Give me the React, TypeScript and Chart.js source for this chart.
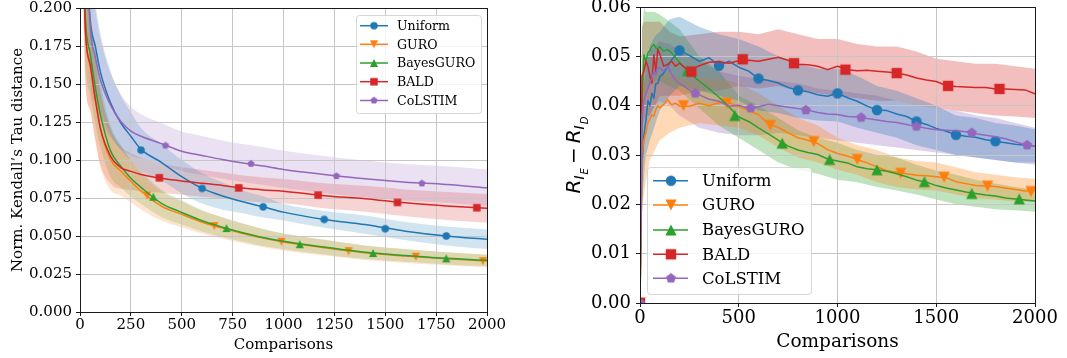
import React, { useEffect, useRef } from 'react';
import { Chart, registerables } from 'chart.js';

Chart.register(...registerables);

const NAMES = ['Uniform', 'GURO', 'BayesGURO', 'BALD', 'CoLSTIM'];
const COLORS = ['#1f77b4', '#ff7f0e', '#2ca02c', '#d62728', '#9467bd'];
const SHAPES = ['circle', 'triDown', 'triUp', 'square', 'pentagon'];

// ---------------- Left panel: Norm. Kendall's Tau distance ----------------
const L_X_TICKS = [0, 250, 500, 750, 1000, 1250, 1500, 1750, 2000];
const L_Y_TICKS = [0, 0.025, 0.05, 0.075, 0.1, 0.125, 0.15, 0.175, 0.2];
const L_X = [10, 25, 50, 75, 100, 150, 200, 250, 300, 400, 500, 600, 700, 800, 900, 1000, 1200, 1400, 1600, 1800, 2000];

const L_UNIFORM = [0.32, 0.25, 0.192, 0.175, 0.158, 0.1376, 0.1245, 0.1156, 0.107, 0.0985, 0.089, 0.0813, 0.0763, 0.0725, 0.0692, 0.0657, 0.0609, 0.0575, 0.0532, 0.05, 0.0478];
const L_UNIFORM_LO = [0.28, 0.215, 0.162, 0.147, 0.133, 0.1166, 0.1065, 0.0996, 0.093, 0.0865, 0.078, 0.0713, 0.0673, 0.065, 0.0622, 0.0602, 0.0554, 0.0515, 0.0472, 0.0438, 0.0414];
const L_UNIFORM_HI = [0.36, 0.285, 0.222, 0.203, 0.183, 0.1586, 0.1425, 0.1316, 0.121, 0.1105, 0.1, 0.0913, 0.0853, 0.08, 0.0762, 0.0712, 0.0664, 0.0635, 0.0592, 0.0562, 0.0542];

const L_GURO = [0.3, 0.19, 0.162, 0.141, 0.1206, 0.1003, 0.0927, 0.086, 0.0795, 0.0697, 0.0642, 0.0591, 0.0552, 0.0517, 0.0486, 0.046, 0.0423, 0.039, 0.0368, 0.035, 0.0335];
const L_GURO_LO = [0.26, 0.155, 0.132, 0.114, 0.0956, 0.0803, 0.0767, 0.072, 0.0675, 0.0602, 0.0557, 0.0516, 0.0482, 0.0452, 0.0426, 0.0403, 0.0371, 0.0342, 0.0323, 0.0307, 0.0293];
const L_GURO_HI = [0.34, 0.225, 0.192, 0.168, 0.1456, 0.1203, 0.1087, 0.1, 0.0915, 0.0792, 0.0727, 0.0666, 0.0622, 0.0582, 0.0546, 0.0517, 0.0475, 0.0438, 0.0413, 0.0393, 0.0377];

const L_BAYES = [0.3, 0.2, 0.17, 0.148, 0.13, 0.106, 0.096, 0.088, 0.082, 0.0715, 0.0655, 0.06, 0.0558, 0.0522, 0.049, 0.0465, 0.0427, 0.0393, 0.0372, 0.0353, 0.034];
const L_BAYES_LO = [0.265, 0.17, 0.143, 0.124, 0.109, 0.089, 0.082, 0.076, 0.071, 0.0625, 0.0575, 0.053, 0.0493, 0.0462, 0.0435, 0.0413, 0.0379, 0.0348, 0.033, 0.0313, 0.0302];
const L_BAYES_HI = [0.335, 0.23, 0.197, 0.172, 0.151, 0.123, 0.11, 0.1, 0.093, 0.0805, 0.0735, 0.067, 0.0623, 0.0582, 0.0545, 0.0517, 0.0475, 0.0438, 0.0414, 0.0393, 0.0378];

const L_BALD = [0.3, 0.19, 0.163, 0.14, 0.121, 0.1025, 0.095, 0.0925, 0.0905, 0.088, 0.0862, 0.0847, 0.0833, 0.0815, 0.0803, 0.0795, 0.0765, 0.0745, 0.0718, 0.0698, 0.0682];
const L_BALD_LO = [0.26, 0.155, 0.133, 0.113, 0.097, 0.0845, 0.081, 0.0805, 0.0795, 0.0785, 0.0772, 0.0759, 0.0748, 0.0732, 0.0721, 0.0715, 0.0683, 0.066, 0.063, 0.0606, 0.0587];
const L_BALD_HI = [0.34, 0.225, 0.193, 0.167, 0.145, 0.1205, 0.109, 0.1045, 0.1015, 0.0975, 0.0952, 0.0935, 0.0918, 0.0898, 0.0885, 0.0875, 0.0847, 0.083, 0.0806, 0.079, 0.0777];

const L_COLSTIM = [0.35, 0.28, 0.189, 0.168, 0.153, 0.136, 0.1255, 0.119, 0.1156, 0.1108, 0.1058, 0.103, 0.1003, 0.098, 0.096, 0.0938, 0.0905, 0.0876, 0.0854, 0.0839, 0.0817];
const L_COLSTIM_LO = [0.31, 0.24, 0.153, 0.137, 0.126, 0.115, 0.1075, 0.103, 0.1011, 0.0973, 0.0928, 0.0902, 0.0877, 0.0855, 0.0836, 0.0815, 0.0783, 0.0755, 0.0734, 0.0719, 0.0697];
const L_COLSTIM_HI = [0.39, 0.32, 0.225, 0.199, 0.18, 0.157, 0.1435, 0.135, 0.1301, 0.1243, 0.1188, 0.1158, 0.1129, 0.1105, 0.1084, 0.1061, 0.1027, 0.0997, 0.0974, 0.0959, 0.0937];

const L_MK_UNIFORM_X = [300, 600, 900, 1200, 1500, 1800];
const L_MK_UNIFORM_Y = [0.1065, 0.0813, 0.0692, 0.0609, 0.0548, 0.05];
const L_MK_GURO_X = [330, 660, 990, 1320, 1650, 1980];
const L_MK_GURO_Y = [0.0766, 0.0565, 0.0462, 0.04, 0.0364, 0.0334];
const L_MK_BAYES_X = [360, 720, 1080, 1440, 1800];
const L_MK_BAYES_Y = [0.0758, 0.0552, 0.0446, 0.0388, 0.0353];
const L_MK_BALD_X = [390, 780, 1170, 1560, 1950];
const L_MK_BALD_Y = [0.0883, 0.0817, 0.0769, 0.0721, 0.0686];
const L_MK_COLSTIM_X = [420, 840, 1260, 1680];
const L_MK_COLSTIM_Y = [0.1095, 0.0975, 0.0894, 0.0846];

// ---------------- Right panel: R_IE - R_ID ----------------
const R_X_TICKS = [0, 500, 1000, 1500, 2000];
const R_Y_TICKS = [0, 0.01, 0.02, 0.03, 0.04, 0.05, 0.06];
const R_X = [0, 10, 20, 30, 40, 50, 60, 70, 80, 90, 100, 120, 140, 160, 180, 200, 250, 300, 350, 400, 450, 500, 550, 600, 650, 700, 750, 800, 850, 900, 950, 1000, 1050, 1100, 1150, 1200, 1250, 1300, 1350, 1400, 1450, 1500, 1550, 1600, 1650, 1700, 1750, 1800, 1850, 1900, 1950, 2000];

const R_UNIFORM = [0, 0.028, 0.034, 0.037, 0.041, 0.04, 0.0425, 0.0415, 0.0445, 0.0445, 0.0458, 0.0466, 0.048, 0.0493, 0.0502, 0.0512, 0.0502, 0.049, 0.0497, 0.0481, 0.049, 0.0478, 0.047, 0.0455, 0.0451, 0.0446, 0.0437, 0.0431, 0.0428, 0.0422, 0.0419, 0.0425, 0.0416, 0.0409, 0.0399, 0.0391, 0.039, 0.0383, 0.0378, 0.0368, 0.0362, 0.0354, 0.0348, 0.0341, 0.0338, 0.0336, 0.0331, 0.0328, 0.0325, 0.0322, 0.032, 0.0318];
const R_GURO = [0, 0.03, 0.033, 0.0345, 0.0365, 0.0372, 0.0382, 0.0378, 0.0392, 0.04, 0.0396, 0.0402, 0.0412, 0.0402, 0.0405, 0.0399, 0.0399, 0.0405, 0.04, 0.0406, 0.0406, 0.0398, 0.039, 0.0382, 0.0363, 0.0356, 0.0345, 0.0335, 0.033, 0.0323, 0.0311, 0.0303, 0.0298, 0.0291, 0.0284, 0.0276, 0.0268, 0.0265, 0.0262, 0.0259, 0.0258, 0.0256, 0.0254, 0.0246, 0.0242, 0.0238, 0.0237, 0.0236, 0.0233, 0.023, 0.0227, 0.0228];
const R_BAYES = [0, 0.04, 0.0503, 0.049, 0.0507, 0.0512, 0.052, 0.0524, 0.0517, 0.0515, 0.052, 0.051, 0.0514, 0.0507, 0.0497, 0.0488, 0.0466, 0.045, 0.0434, 0.0417, 0.0398, 0.0377, 0.0368, 0.0355, 0.0343, 0.033, 0.0318, 0.031, 0.0305, 0.0301, 0.0292, 0.0288, 0.0284, 0.0276, 0.0272, 0.027, 0.0267, 0.0262, 0.0256, 0.0249, 0.0245, 0.0238, 0.0233, 0.0229, 0.0225, 0.0222, 0.0219, 0.0217, 0.0213, 0.0211, 0.0209, 0.0207];
const R_BALD = [0, 0.046, 0.047, 0.049, 0.048, 0.046, 0.0446, 0.0503, 0.047, 0.0514, 0.0505, 0.048, 0.0484, 0.049, 0.048, 0.0486, 0.047, 0.0481, 0.0488, 0.0489, 0.0486, 0.0491, 0.0492, 0.049, 0.0494, 0.0498, 0.0492, 0.0484, 0.0483, 0.048, 0.0473, 0.048, 0.0473, 0.0471, 0.0472, 0.047, 0.0468, 0.0466, 0.0462, 0.0456, 0.0452, 0.0449, 0.0441, 0.0439, 0.0438, 0.0437, 0.0437, 0.0434, 0.0434, 0.0433, 0.0432, 0.0424];
const R_COLSTIM = [0, 0.038, 0.041, 0.0424, 0.0435, 0.0448, 0.0455, 0.047, 0.0462, 0.0478, 0.0476, 0.047, 0.048, 0.0464, 0.0452, 0.0445, 0.0432, 0.0422, 0.0413, 0.0409, 0.0399, 0.0401, 0.0394, 0.0398, 0.0403, 0.04, 0.0397, 0.0394, 0.0391, 0.0386, 0.0383, 0.0382, 0.0378, 0.0377, 0.0374, 0.0371, 0.0368, 0.0366, 0.0362, 0.0358, 0.0354, 0.0351, 0.035, 0.0349, 0.0347, 0.0343, 0.034, 0.0337, 0.0333, 0.0327, 0.0321, 0.0318];

const R_BAND_X = [0, 10, 20, 30, 50, 75, 100, 150, 200, 300, 400, 500, 600, 700, 800, 900, 1000, 1100, 1200, 1300, 1400, 1500, 1600, 1700, 1800, 1900, 2000];
const R_UNIFORM_LO = [0, 0.02, 0.026, 0.03, 0.033, 0.036, 0.039, 0.042, 0.044, 0.043, 0.042, 0.041, 0.039, 0.0385, 0.0375, 0.037, 0.0368, 0.0355, 0.0345, 0.0335, 0.032, 0.031, 0.03, 0.0295, 0.029, 0.0285, 0.0285];
const R_UNIFORM_HI = [0, 0.036, 0.044, 0.048, 0.052, 0.054, 0.055, 0.0575, 0.058, 0.056, 0.0545, 0.0535, 0.052, 0.05, 0.0485, 0.0475, 0.0475, 0.046, 0.044, 0.043, 0.0415, 0.04, 0.038, 0.0375, 0.0365, 0.036, 0.0352];
const R_GURO_LO = [0, 0.018, 0.022, 0.025, 0.029, 0.031, 0.033, 0.0345, 0.0355, 0.0365, 0.036, 0.0355, 0.034, 0.0315, 0.0295, 0.0285, 0.027, 0.026, 0.0245, 0.0235, 0.023, 0.0228, 0.022, 0.0212, 0.021, 0.0205, 0.0205];
const R_GURO_HI = [0, 0.042, 0.044, 0.045, 0.046, 0.046, 0.0465, 0.0465, 0.0455, 0.0455, 0.0455, 0.0445, 0.0425, 0.04, 0.0375, 0.036, 0.0335, 0.032, 0.031, 0.0295, 0.0288, 0.0285, 0.0275, 0.0265, 0.026, 0.0255, 0.0252];
const R_BAYES_LO = [0, 0.03, 0.04, 0.042, 0.044, 0.045, 0.045, 0.044, 0.043, 0.0395, 0.036, 0.0335, 0.031, 0.0285, 0.027, 0.0262, 0.025, 0.0245, 0.0235, 0.0228, 0.022, 0.021, 0.02, 0.0195, 0.019, 0.0188, 0.0185];
const R_BAYES_HI = [0, 0.055, 0.06, 0.059, 0.059, 0.059, 0.0585, 0.057, 0.0555, 0.05, 0.047, 0.042, 0.04, 0.0375, 0.035, 0.0335, 0.0325, 0.031, 0.03, 0.0295, 0.028, 0.0268, 0.026, 0.025, 0.0242, 0.0235, 0.023];
const R_BALD_LO = [0, 0.036, 0.037, 0.038, 0.038, 0.04, 0.042, 0.042, 0.042, 0.043, 0.043, 0.044, 0.0435, 0.044, 0.043, 0.0425, 0.042, 0.0415, 0.041, 0.041, 0.04, 0.0395, 0.039, 0.0385, 0.038, 0.0378, 0.0375];
const R_BALD_HI = [0, 0.056, 0.057, 0.057, 0.057, 0.057, 0.057, 0.055, 0.054, 0.0545, 0.055, 0.055, 0.0545, 0.0555, 0.0545, 0.0535, 0.0535, 0.0525, 0.052, 0.052, 0.051, 0.0495, 0.049, 0.0485, 0.0485, 0.048, 0.0475];
const R_COLSTIM_LO = [0, 0.03, 0.034, 0.036, 0.038, 0.04, 0.041, 0.04, 0.038, 0.0355, 0.0345, 0.034, 0.034, 0.0345, 0.034, 0.0335, 0.033, 0.0325, 0.032, 0.0315, 0.031, 0.0305, 0.03, 0.0295, 0.029, 0.0285, 0.028];
const R_COLSTIM_HI = [0, 0.045, 0.048, 0.049, 0.051, 0.052, 0.053, 0.0525, 0.051, 0.049, 0.047, 0.046, 0.0455, 0.045, 0.0445, 0.0435, 0.043, 0.0425, 0.042, 0.041, 0.04, 0.0395, 0.039, 0.038, 0.0375, 0.0365, 0.0355];

const R_MK_UNIFORM_X = [0, 200, 400, 600, 800, 1000, 1200, 1400, 1600, 1800];
const R_MK_UNIFORM_Y = [0, 0.0512, 0.0481, 0.0455, 0.0431, 0.0425, 0.0391, 0.0368, 0.0341, 0.0328];
const R_MK_GURO_X = [0, 220, 440, 660, 880, 1100, 1320, 1540, 1760, 1980];
const R_MK_GURO_Y = [0, 0.04, 0.0405, 0.036, 0.0327, 0.0291, 0.0263, 0.0255, 0.0237, 0.0226];
const R_MK_BAYES_X = [0, 240, 480, 720, 960, 1200, 1440, 1680, 1920];
const R_MK_BAYES_Y = [0, 0.0471, 0.038, 0.0324, 0.0291, 0.027, 0.0246, 0.0222, 0.0211];
const R_MK_BALD_X = [0, 260, 520, 780, 1040, 1300, 1560, 1820];
const R_MK_BALD_Y = [0, 0.0469, 0.0494, 0.0486, 0.0473, 0.0466, 0.044, 0.0434];
const R_MK_COLSTIM_X = [0, 280, 560, 840, 1120, 1400, 1680, 1960];
const R_MK_COLSTIM_Y = [0, 0.0425, 0.0395, 0.0391, 0.0376, 0.0358, 0.0345, 0.032];

// ---------------------------------------------------------------------------
const SERIF = "'DejaVu Serif', serif";

type Legend = { x0: number; y0: number; x1: number; y1: number; lx0: number; lx1: number; mx: number; tx: number; rows: number[] };
type Spec = {
  W: number; H: number; area: { l: number; t: number; r: number; b: number };
  xTicks: number[]; yTicks: number[]; yDec: number;
  lineX: number[]; lines: number[][];
  bandX: number[]; lows: number[][]; highs: number[][];
  mkX: number[][]; mkY: number[][];
  smooth: boolean; bandAlpha: number; mk: number; lw: number;
  tickFont: number; titleFont: number; legendFont: number; tickLen: number; tickPad: number; xTickPad: number;
  legend: Legend;
  xTitle: { x: number; y: number };
  yTitle: (ctx: CanvasRenderingContext2D) => void;
};

function rgba(hex: string, a: number) {
  const n = parseInt(hex.slice(1), 16);
  return `rgba(${(n >> 16) & 255},${(n >> 8) & 255},${n & 255},${a})`;
}

function makeMarker(shape: string, color: string, s: number): HTMLCanvasElement {
  const size = 2 * Math.ceil(s + 3);
  const c = document.createElement('canvas');
  c.width = size;
  c.height = size;
  const g = c.getContext('2d')!;
  const cx = size / 2;
  const cy = size / 2;
  g.fillStyle = color;
  g.beginPath();
  if (shape === 'circle') {
    g.arc(cx, cy, s, 0, Math.PI * 2);
  } else if (shape === 'square') {
    g.rect(cx - s, cy - s, 2 * s, 2 * s);
  } else if (shape === 'triUp') {
    const t = s * 1.08;
    g.moveTo(cx, cy - t);
    g.lineTo(cx + t, cy + t);
    g.lineTo(cx - t, cy + t);
  } else if (shape === 'triDown') {
    const t = s * 1.08;
    g.moveTo(cx, cy + t);
    g.lineTo(cx + t, cy - t);
    g.lineTo(cx - t, cy - t);
  } else {
    for (let k = 0; k < 5; k++) {
      const a = -Math.PI / 2 + (k * 2 * Math.PI) / 5;
      const px = cx + s * Math.cos(a);
      const py = cy + s * Math.sin(a);
      if (k === 0) g.moveTo(px, py);
      else g.lineTo(px, py);
    }
  }
  g.closePath();
  g.fill();
  return c;
}

function roundRect(ctx: CanvasRenderingContext2D, x: number, y: number, w: number, h: number, r: number) {
  ctx.beginPath();
  ctx.moveTo(x + r, y);
  ctx.lineTo(x + w - r, y);
  ctx.arcTo(x + w, y, x + w, y + r, r);
  ctx.lineTo(x + w, y + h - r);
  ctx.arcTo(x + w, y + h, x + w - r, y + h, r);
  ctx.lineTo(x + r, y + h);
  ctx.arcTo(x, y + h, x, y + h - r, r);
  ctx.lineTo(x, y + r);
  ctx.arcTo(x, y, x + r, y, r);
  ctx.closePath();
}

function buildConfig(spec: Spec): any {
  const markers = SHAPES.map((s, i) => makeMarker(s, COLORS[i], spec.mk));
  const interp = spec.smooth ? 'monotone' : 'default';
  const datasets: any[] = [];
  // bands: the lower edge fills up to the upper edge (next dataset)
  for (let i = 0; i < 5; i++) {
    const hiIdx = datasets.length + 1;
    datasets.push({
      label: NAMES[i] + ' lo',
      data: spec.bandX.map((x, j) => ({ x, y: spec.lows[i][j] })),
      borderWidth: 0, borderColor: 'rgba(0,0,0,0)', pointRadius: 0,
      fill: { target: hiIdx }, backgroundColor: rgba(COLORS[i], spec.bandAlpha), order: 100,
      cubicInterpolationMode: interp, tension: 0, clip: 0,
    });
    datasets.push({
      label: NAMES[i] + ' hi',
      data: spec.bandX.map((x, j) => ({ x, y: spec.highs[i][j] })),
      borderWidth: 0, borderColor: 'rgba(0,0,0,0)', pointRadius: 0, fill: false, order: 100,
      cubicInterpolationMode: interp, tension: 0, clip: 0,
    });
  }
  for (let i = 0; i < 5; i++) {
    datasets.push({
      label: NAMES[i],
      data: spec.lineX.map((x, j) => ({ x, y: spec.lines[i][j] })),
      borderColor: COLORS[i], borderWidth: spec.lw, pointRadius: 0, fill: false,
      borderJoinStyle: 'round', order: 20 - 2 * i,
      cubicInterpolationMode: interp, tension: 0, clip: 0,
    });
    datasets.push({
      label: NAMES[i] + ' markers',
      data: spec.mkX[i].map((x, j) => ({ x, y: spec.mkY[i][j] })),
      showLine: false, pointStyle: markers[i], pointRadius: spec.mk, pointHoverRadius: spec.mk,
      backgroundColor: COLORS[i], borderColor: COLORS[i], order: 19 - 2 * i, clip: 0,
    });
  }

  const { area, W, H } = spec;
  const gridColor = '#c6c6c6';

  const deco = {
    id: 'deco',
    afterDatasetsDraw(chart: any) {
      const ctx = chart.ctx as CanvasRenderingContext2D;
      const a = chart.chartArea;
      ctx.save();
      ctx.strokeStyle = '#1a1a1a';
      ctx.lineWidth = 1;
      ctx.strokeRect(Math.round(a.left) + 0.5, Math.round(a.top) + 0.5, Math.round(a.right - a.left), Math.round(a.bottom - a.top));
      ctx.restore();
    },
    afterDraw(chart: any) {
      const ctx = chart.ctx as CanvasRenderingContext2D;
      ctx.save();
      ctx.fillStyle = '#000';
      ctx.font = `${spec.titleFont}px ${SERIF}`;
      ctx.textAlign = 'center';
      ctx.textBaseline = 'middle';
      ctx.fillText('Comparisons', spec.xTitle.x, spec.xTitle.y);
      spec.yTitle(ctx);
      const L = spec.legend;
      roundRect(ctx, L.x0 + 0.5, L.y0 + 0.5, L.x1 - L.x0, L.y1 - L.y0, 3);
      ctx.fillStyle = 'rgba(255,255,255,0.8)';
      ctx.fill();
      ctx.strokeStyle = 'rgba(204,204,204,0.8)';
      ctx.lineWidth = 1;
      ctx.stroke();
      ctx.font = `${spec.legendFont}px ${SERIF}`;
      ctx.textAlign = 'left';
      ctx.textBaseline = 'middle';
      for (let i = 0; i < 5; i++) {
        const y = L.rows[i];
        ctx.strokeStyle = COLORS[i];
        ctx.lineWidth = spec.lw;
        ctx.beginPath();
        ctx.moveTo(L.lx0, y);
        ctx.lineTo(L.lx1, y);
        ctx.stroke();
        const m = markers[i];
        ctx.drawImage(m, L.mx - m.width / 2, y - m.height / 2);
        ctx.fillStyle = '#000';
        ctx.fillText(NAMES[i], L.tx, y + 1);
      }
      ctx.restore();
    },
  };

  return {
    type: 'line',
    data: { datasets },
    options: {
      animation: false,
      responsive: false,
      devicePixelRatio: 1,
      events: [],
      layout: { padding: { left: 0, top: area.t, right: W - area.r, bottom: 0 } },
      plugins: {
        legend: { display: false },
        tooltip: { enabled: false },
        title: { display: false },
        filler: { drawTime: 'beforeDraw', propagate: false },
      },
      scales: {
        x: {
          type: 'linear',
          min: spec.xTicks[0],
          max: spec.xTicks[spec.xTicks.length - 1],
          afterBuildTicks: (s: any) => { s.ticks = spec.xTicks.map((v) => ({ value: v })); },
          afterFit: (s: any) => { s.height = H - area.b; s.paddingLeft = 0; s.paddingRight = 0; },
          ticks: {
            autoSkip: false, maxRotation: 0, minRotation: 0, padding: spec.xTickPad, color: '#000',
            font: { family: SERIF, size: spec.tickFont, lineHeight: 1.2 },
            callback: (v: any) => String(v),
          },
          grid: { color: gridColor, lineWidth: 1, drawTicks: true, tickLength: spec.tickLen, tickColor: '#1a1a1a', tickWidth: 1 },
          border: { display: false },
        },
        y: {
          type: 'linear',
          min: spec.yTicks[0],
          max: spec.yTicks[spec.yTicks.length - 1],
          afterBuildTicks: (s: any) => { s.ticks = spec.yTicks.map((v) => ({ value: v })); },
          afterFit: (s: any) => { s.width = area.l; s.paddingTop = 0; s.paddingBottom = 0; },
          ticks: {
            padding: spec.tickPad, color: '#000',
            font: { family: SERIF, size: spec.tickFont, lineHeight: 1.2 },
            callback: (v: any) => Number(v).toFixed(spec.yDec),
          },
          grid: { color: gridColor, lineWidth: 1, drawTicks: true, tickLength: spec.tickLen, tickColor: '#1a1a1a', tickWidth: 1 },
          border: { display: false },
        },
      },
    },
    plugins: [deco],
  };
}

const LEFT_SPEC: Spec = {
  W: 530, H: 358, area: { l: 80, t: 8, r: 487, b: 312 },
  xTicks: L_X_TICKS, yTicks: L_Y_TICKS, yDec: 3,
  lineX: L_X, lines: [L_UNIFORM, L_GURO, L_BAYES, L_BALD, L_COLSTIM],
  bandX: L_X, lows: [L_UNIFORM_LO, L_GURO_LO, L_BAYES_LO, L_BALD_LO, L_COLSTIM_LO],
  highs: [L_UNIFORM_HI, L_GURO_HI, L_BAYES_HI, L_BALD_HI, L_COLSTIM_HI],
  mkX: [L_MK_UNIFORM_X, L_MK_GURO_X, L_MK_BAYES_X, L_MK_BALD_X, L_MK_COLSTIM_X],
  mkY: [L_MK_UNIFORM_Y, L_MK_GURO_Y, L_MK_BAYES_Y, L_MK_BALD_Y, L_MK_COLSTIM_Y],
  smooth: true, bandAlpha: 0.2, mk: 3.75, lw: 1.5,
  tickFont: 15, titleFont: 15, legendFont: 12.6, tickLen: 4, tickPad: 4, xTickPad: 0,
  legend: { x0: 356, y0: 15, x1: 481, y1: 113, lx0: 360, lx1: 388, mx: 374, tx: 397, rows: [25.7, 44.3, 63, 81.7, 100.5] },
  xTitle: { x: 283.5, y: 345 },
  yTitle: (ctx) => {
    ctx.save();
    ctx.translate(18, 160);
    ctx.rotate(-Math.PI / 2);
    ctx.font = `15px ${SERIF}`;
    ctx.textAlign = 'center';
    ctx.textBaseline = 'middle';
    ctx.fillStyle = '#000';
    ctx.fillText('Norm. Kendall\u2019s Tau distance', 0, 0);
    ctx.restore();
  },
};

function drawMathLabel(ctx: CanvasRenderingContext2D, cx: number, cy: number, size: number) {
  const SANS = "'DejaVu Sans', sans-serif";
  const parts = [
    { t: 'R', f: `italic ${size}px ${SANS}`, dy: 0 },
    { t: 'I', f: `italic ${size * 0.7}px ${SANS}`, dy: size * 0.22 },
    { t: 'E', f: `italic ${size * 0.5}px ${SANS}`, dy: size * 0.38 },
    { t: '\u2009\u2212\u2009', f: `${size}px ${SANS}`, dy: 0 },
    { t: 'R', f: `italic ${size}px ${SANS}`, dy: 0 },
    { t: 'I', f: `italic ${size * 0.7}px ${SANS}`, dy: size * 0.22 },
    { t: 'D', f: `italic ${size * 0.5}px ${SANS}`, dy: size * 0.38 },
  ];
  ctx.save();
  ctx.translate(cx, cy);
  ctx.rotate(-Math.PI / 2);
  ctx.fillStyle = '#000';
  ctx.textBaseline = 'alphabetic';
  ctx.textAlign = 'left';
  let total = 0;
  const widths = parts.map((p) => {
    ctx.font = p.f;
    const w = ctx.measureText(p.t).width + (p.t === 'I' ? 1 : 0);
    total += w;
    return w;
  });
  let x = -total / 2;
  parts.forEach((p, i) => {
    ctx.font = p.f;
    ctx.fillText(p.t, x, p.dy);
    x += widths[i];
  });
  ctx.restore();
}

const RIGHT_SPEC: Spec = {
  W: 537, H: 358, area: { l: 110, t: 7, r: 505, b: 303 },
  xTicks: R_X_TICKS, yTicks: R_Y_TICKS, yDec: 2,
  lineX: R_X, lines: [R_UNIFORM, R_GURO, R_BAYES, R_BALD, R_COLSTIM],
  bandX: R_BAND_X, lows: [R_UNIFORM_LO, R_GURO_LO, R_BAYES_LO, R_BALD_LO, R_COLSTIM_LO],
  highs: [R_UNIFORM_HI, R_GURO_HI, R_BAYES_HI, R_BALD_HI, R_COLSTIM_HI],
  mkX: [R_MK_UNIFORM_X, R_MK_GURO_X, R_MK_BAYES_X, R_MK_BALD_X, R_MK_COLSTIM_X],
  mkY: [R_MK_UNIFORM_Y, R_MK_GURO_Y, R_MK_BAYES_Y, R_MK_BALD_Y, R_MK_COLSTIM_Y],
  smooth: false, bandAlpha: 0.3, mk: 5.2, lw: 1.5,
  tickFont: 18, titleFont: 18.5, legendFont: 16.5, tickLen: 4, tickPad: 5, xTickPad: 1,
  legend: { x0: 117, y0: 167, x1: 281, y1: 294, lx0: 123, lx1: 158, mx: 141, tx: 172, rows: [180.7, 205, 230, 254.3, 278.3] },
  xTitle: { x: 307.5, y: 342 },
  yTitle: (ctx) => drawMathLabel(ctx, 50, 155, 20),
};

function Panel({ spec, left }: { spec: Spec; left: number }) {
  const ref = useRef<HTMLCanvasElement>(null);
  useEffect(() => {
    const chart = new Chart(ref.current as HTMLCanvasElement, buildConfig(spec));
    return () => chart.destroy();
  }, [spec]);
  return (
    <canvas
      ref={ref}
      width={spec.W}
      height={spec.H}
      style={{ position: 'absolute', left, top: 0, width: spec.W, height: spec.H, display: 'block' }}
    />
  );
}

export default function App() {
  return (
    <div style={{ position: 'absolute', left: 0, top: 0, width: 1067, height: 358, background: '#ffffff', overflow: 'hidden' }}>
      <Panel spec={LEFT_SPEC} left={0} />
      <Panel spec={RIGHT_SPEC} left={530} />
    </div>
  );
}
